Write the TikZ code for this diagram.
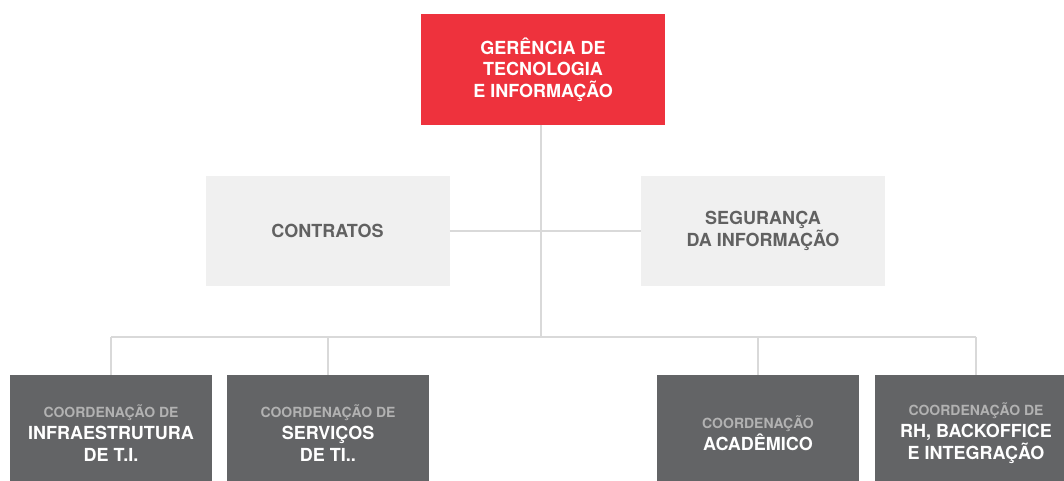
\documentclass[tikz,border=0pt]{standalone}
\usepackage{fontspec}
\setmainfont{TeX Gyre Heros}
\definecolor{redbox}{HTML}{EE323D}
\definecolor{lightbox}{HTML}{F0F0F0}
\definecolor{darkbox}{HTML}{636466}
\definecolor{linegray}{HTML}{D9D9D9}
\definecolor{midtext}{HTML}{616161}
\definecolor{subtext}{HTML}{B2B2B2}
\begin{document}
\begin{tikzpicture}[x=0.75pt,y=-0.75pt,
  base/.style={rectangle,inner sep=0pt,align=center,font=\bfseries\fontsize{13.5}{16.2}\selectfont},
  topbox/.style={base,fill=redbox,text=white,minimum width=244*0.75pt,minimum height=111*0.75pt},
  midbox/.style={base,fill=lightbox,text=midtext,minimum width=244*0.75pt,minimum height=110*0.75pt},
  lowbox/.style={base,fill=darkbox,text=white,minimum width=202*0.75pt,minimum height=116*0.75pt,font=\bfseries\fontsize{13.5}{16.5}\selectfont},
  conn/.style={draw=linegray,line width=1.5pt},
  sub/.style={}
]
\useasboundingbox (0,0) rectangle (1064,480);
\clip (0,0) rectangle (1064,480);
\newcommand{\subline}[1]{{\color{subtext}\fontsize{10.5}{17.2}\selectfont #1}}

\node[topbox] (ger) at (543,69.5) {GERÊNCIA DE\\TECNOLOGIA\\E INFORMAÇÃO};
\node[midbox] (con) at (327.5,231) {CONTRATOS};
\node[midbox] (seg) at (763,231) {SEGURANÇA\\DA INFORMAÇÃO};

\node[lowbox] (c1) at (111,433) {\subline{COORDENAÇÃO DE}\\INFRAESTRUTURA\\DE T.I.};
\node[lowbox] (c2) at (328,433) {\subline{COORDENAÇÃO DE}\\SERVIÇOS\\DE TI..};
\node[lowbox] (c3) at (758,433) {\subline{COORDENAÇÃO}\\ACADÊMICO};
\node[lowbox] (c4) at (976,433) {\subline{COORDENAÇÃO DE}\\RH, BACKOFFICE\\E INTEGRAÇÃO};

\coordinate (hub) at (541,337);
\coordinate (busL) at (c1.north |- hub);
\coordinate (busR) at (c4.north |- hub);

\begin{scope}[on background layer/.style={}]
\draw[conn] (ger.south -| hub) -- (hub);
\draw[conn] (con.east) -- (seg.west);
\draw[conn] (busL) -- (busR);
\draw[conn] (c1.north) -- (busL);
\draw[conn] (c2.north) -- (c2.north |- hub);
\draw[conn] (c3.north) -- (c3.north |- hub);
\draw[conn] (c4.north) -- (busR);
\end{scope}
\end{tikzpicture}
\end{document}
